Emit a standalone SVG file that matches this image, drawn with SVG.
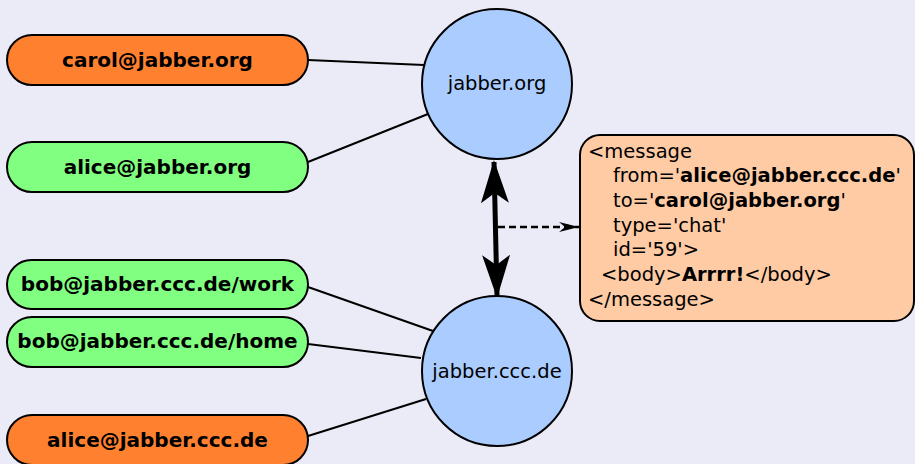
<svg xmlns="http://www.w3.org/2000/svg" width="915" height="464" viewBox="0 0 915 464">
<style>
.bg{fill:#EBEBF7}
.pill{stroke:#000;stroke-width:2}
.o{fill:#FF8130}
.g{fill:#80FF80}
.srv{fill:#AACCFF;stroke:#000;stroke-width:2}
.pt{font-family:"DejaVu Sans",sans-serif;font-weight:bold;font-size:20px;text-anchor:middle}
.st{font-family:"DejaVu Sans",sans-serif;font-size:19.5px;text-anchor:middle}
.mt{font-family:"DejaVu Sans",sans-serif;font-size:19.5px}
.ln{stroke:#000;stroke-width:2;fill:none}
</style>
<defs>
<marker id="big" viewBox="0 0 43 28" refX="41" refY="14" markerWidth="43" markerHeight="28" markerUnits="userSpaceOnUse" orient="auto-start-reverse">
<path d="M0,0 L43,14 L0,28 L10,14 Z" fill="#000"/>
</marker>
<marker id="sm2" viewBox="0 0 20 10" refX="20" refY="5" markerWidth="20" markerHeight="10" markerUnits="userSpaceOnUse" orient="auto">
<path d="M0,0 L20,5 L0,10 L6,5 Z" fill="#000"/>
</marker>
</defs>
<rect class="bg" x="0" y="0" width="915" height="464"/>
<g id="connectors">
<line class="ln" x1="308" y1="60" x2="424" y2="65"/>
<line class="ln" x1="308" y1="162" x2="428" y2="114"/>
<line class="ln" x1="308" y1="287" x2="433" y2="331"/>
<line class="ln" x1="308" y1="344" x2="421" y2="358"/>
<line class="ln" x1="308" y1="436" x2="426" y2="399"/>
<line x1="494" y1="162" x2="497" y2="296" stroke="#000" stroke-width="5" marker-start="url(#big)" marker-end="url(#big)"/>
<line x1="498" y1="227" x2="579" y2="227" stroke="#000" stroke-width="2.5" stroke-dasharray="7,4" marker-end="url(#sm2)"/>
</g>
<g id="carol">
<rect class="pill o" x="7" y="35" width="301" height="50" rx="25"/>
<text class="pt" x="157.5" y="67">carol@jabber.org</text>
</g>
<g id="alice-org">
<rect class="pill g" x="7" y="142" width="301" height="50" rx="25"/>
<text class="pt" x="157.5" y="174">alice@jabber.org</text>
</g>
<g id="bob-work">
<rect class="pill g" x="7" y="260" width="301" height="49" rx="24.5"/>
<text class="pt" x="157.5" y="291">bob@jabber.ccc.de/work</text>
</g>
<g id="bob-home">
<rect class="pill g" x="7" y="317" width="301" height="50" rx="25"/>
<text class="pt" x="157.5" y="348">bob@jabber.ccc.de/home</text>
</g>
<g id="alice-ccc">
<rect class="pill o" x="7" y="415" width="301" height="50" rx="25"/>
<text class="pt" x="157.5" y="447">alice@jabber.ccc.de</text>
</g>
<g id="jabber-org">
<circle class="srv" cx="497" cy="84" r="75"/>
<text class="st" x="497" y="90">jabber.org</text>
</g>
<g id="jabber-ccc">
<circle class="srv" cx="497" cy="371" r="75"/>
<text class="st" x="497" y="378">jabber.ccc.de</text>
</g>
<g id="message">
<rect x="580" y="135" width="334" height="186" rx="20" fill="#FFCBA4" stroke="#000" stroke-width="2"/>
<text class="mt" x="588" y="158">&lt;message</text>
<text class="mt" x="613" y="182">from='<tspan font-weight="bold">alice@jabber.ccc.de</tspan>'</text>
<text class="mt" x="613" y="207">to='<tspan font-weight="bold">carol@jabber.org</tspan>'</text>
<text class="mt" x="613" y="232">type='chat'</text>
<text class="mt" x="613" y="256">id='59'&gt;</text>
<text class="mt" x="601" y="281">&lt;body&gt;<tspan font-weight="bold">Arrrr!</tspan>&lt;/body&gt;</text>
<text class="mt" x="588" y="306">&lt;/message&gt;</text>
</g>
</svg>
